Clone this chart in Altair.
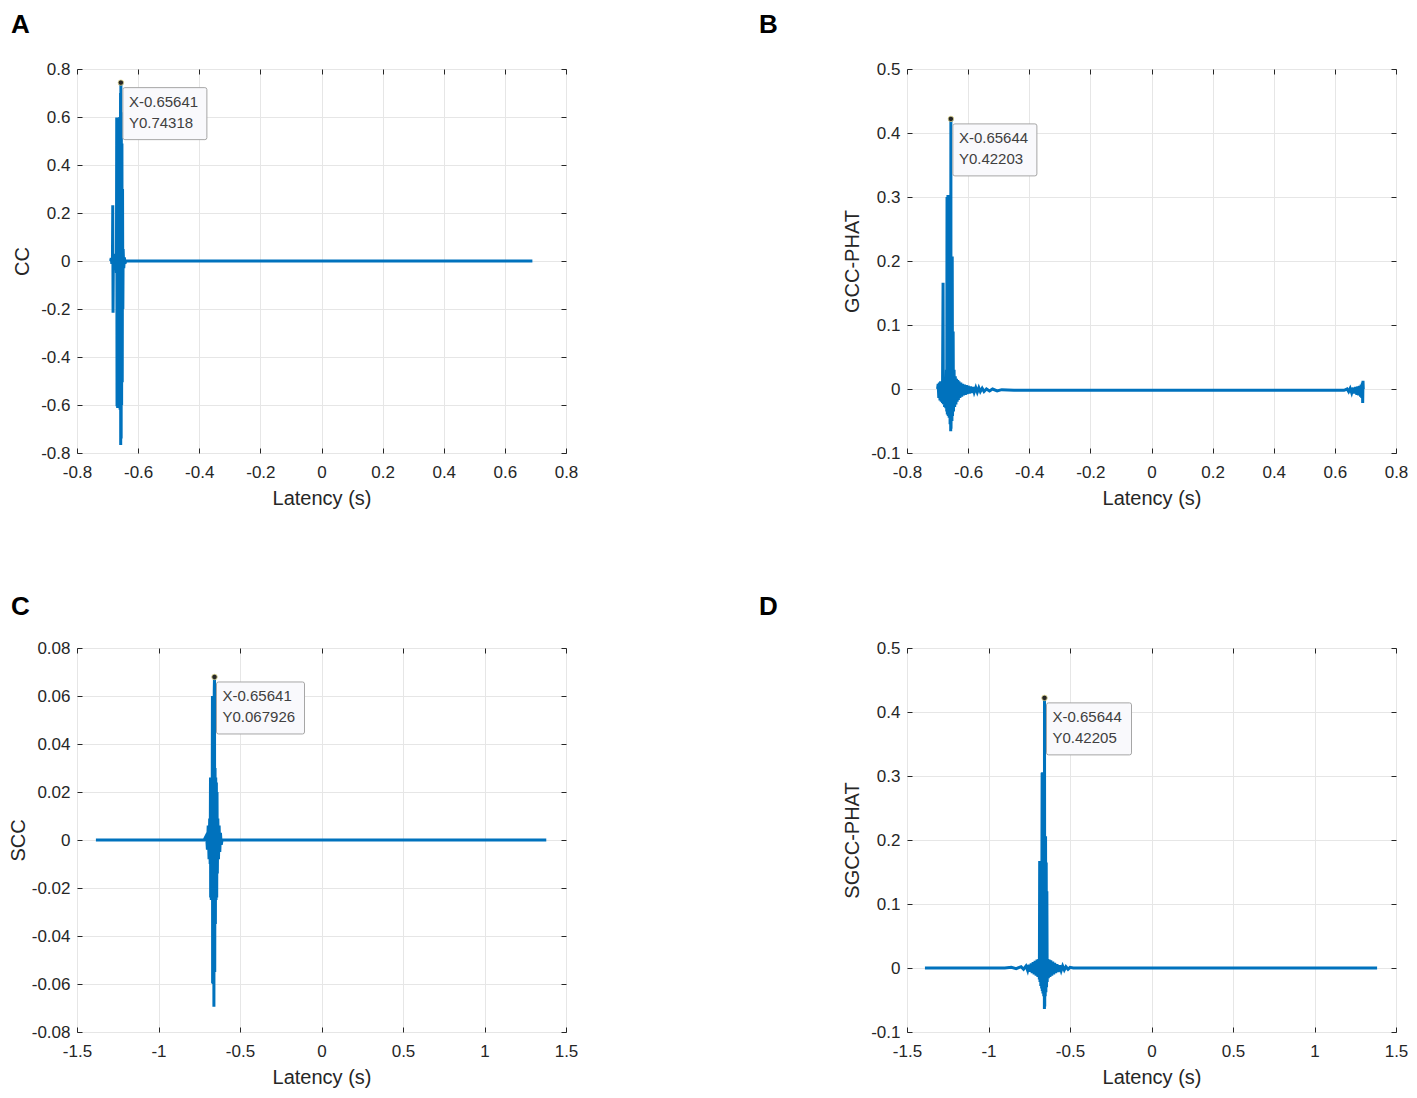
import altair as alt
import pandas as pd

FONT = "Liberation Sans"
BLUE = "#0072BD"
INK = "#262626"

# ---------------- data ----------------
# Panel A : CC
cc_x = [-0.690, -0.688, -0.686, -0.684, -0.683, -0.682, -0.681, -0.679, -0.677, -0.675,
        -0.673, -0.671, -0.670, -0.669, -0.668, -0.667, -0.666, -0.665, -0.663, -0.662,
        -0.660, -0.659, -0.6575, -0.657, -0.65641, -0.6555, -0.655, -0.654, -0.653, -0.652,
        -0.651, -0.650, -0.649, -0.647, -0.645, -0.643, -0.640, 0.690]
cc_y = [0.000, 0.012, -0.012, 0.014, 0.232, -0.216, 0.016, -0.018, 0.020, -0.022,
        0.030, -0.050, 0.598, -0.605, 0.590, -0.612, 0.570, -0.590, 0.550, -0.560,
        0.600, -0.620, 0.700, -0.767, 0.74318, -0.740, 0.620, -0.600, 0.490, -0.505,
        0.300, -0.200, 0.050, -0.030, 0.015, -0.010, 0.000, 0.000]

# Panel B : GCC-PHAT
gcc_x = [-0.700, -0.698, -0.696, -0.694, -0.692, -0.690, -0.688, -0.686, -0.684, -0.682,
         -0.681, -0.679, -0.677, -0.675, -0.673, -0.671, -0.670, -0.669, -0.668, -0.666,
         -0.665, -0.663, -0.662, -0.660, -0.659, -0.658, -0.657, -0.65644, -0.656, -0.654,
         -0.653, -0.652, -0.651, -0.649, -0.648, -0.646, -0.644, -0.642, -0.640, -0.638,
         -0.636, -0.634, -0.632, -0.630, -0.627, -0.624, -0.621, -0.618, -0.615, -0.612,
         -0.609, -0.606, -0.603, -0.600, -0.596, -0.592, -0.588, -0.584, -0.580, -0.575,
         -0.570, -0.565, -0.560, -0.554, -0.548, -0.540, -0.530, -0.520, -0.505, -0.490,
         -0.450, 0.630, 0.640, 0.645, 0.650, 0.655, 0.660, 0.664, 0.668, 0.672,
         0.675, 0.678, 0.681, 0.684, 0.686, 0.688, 0.690, 0.691, 0.692, 0.693]
gcc_y = [0.000, 0.008, -0.014, 0.010, -0.018, 0.012, -0.020, 0.012, -0.022, 0.166,
         -0.024, 0.014, -0.028, 0.016, -0.030, 0.030, -0.035, 0.300, -0.040, 0.303,
         -0.042, 0.060, -0.045, 0.110, -0.055, 0.150, -0.066, 0.42203, -0.062, 0.080,
         -0.050, 0.207, -0.042, 0.090, -0.035, 0.030, -0.028, 0.020, -0.024, 0.016,
         -0.020, 0.014, -0.017, 0.012, -0.014, 0.010, -0.012, 0.008, -0.010, 0.007,
         -0.009, 0.006, -0.008, 0.005, -0.007, 0.004, -0.006, 0.003, -0.005, 0.002,
         -0.005, 0.002, -0.004, 0.001, -0.004, 0.000, -0.003, 0.000, -0.003, -0.001,
         -0.002, -0.002, 0.000, -0.004, 0.001, -0.006, 0.002, -0.007, 0.003, -0.009,
         0.004, -0.010, 0.005, -0.012, 0.007, -0.014, 0.010, -0.022, 0.013, 0.000]

# Panel C : SCC
scc_x = [-1.384, -0.720, -0.705, -0.700, -0.695, -0.690, -0.686, -0.683, -0.681, -0.680,
         -0.678, -0.676, -0.674, -0.672, -0.669, -0.668, -0.666, -0.664, -0.662, -0.660,
         -0.658, -0.65641, -0.655, -0.653, -0.651, -0.649, -0.647, -0.645, -0.643, -0.641,
         -0.639, -0.636, -0.632, -0.628, -0.624, -0.620, -0.615, -0.610, 1.379]
scc_y = [0.000, 0.000, 0.002, -0.004, 0.006, -0.008, 0.009, -0.010, 0.026, -0.024,
         0.025, -0.025, 0.024, -0.023, 0.060, -0.0597, 0.045, -0.060, 0.050, -0.0695,
         0.062, 0.067926, -0.055, 0.030, -0.035, 0.026, -0.025, 0.024, -0.024, 0.020,
         -0.014, 0.009, -0.008, 0.006, -0.005, 0.003, -0.002, 0.000, 0.000]

# Panel D : SGCC-PHAT
sgcc_x = [-1.390, -0.900, -0.860, -0.830, -0.800, -0.785, -0.770, -0.760, -0.752, -0.745,
          -0.738, -0.732, -0.726, -0.720, -0.714, -0.708, -0.702, -0.697, -0.692, -0.688,
          -0.686, -0.684, -0.681, -0.679, -0.676, -0.674, -0.671, -0.670, -0.668, -0.666,
          -0.663, -0.661, -0.659, -0.657, -0.65644, -0.655, -0.654, -0.652, -0.650, -0.648,
          -0.646, -0.644, -0.642, -0.640, -0.637, -0.633, -0.628, -0.623, -0.618, -0.612,
          -0.606, -0.600, -0.594, -0.588, -0.580, -0.572, -0.563, -0.554, -0.545, -0.535,
          -0.525, -0.512, -0.500, -0.480, 1.384]
sgcc_y = [0.000, 0.000, 0.001, -0.001, 0.002, -0.002, 0.003, -0.004, 0.005, -0.006,
          0.007, -0.008, 0.009, -0.010, 0.011, -0.012, 0.013, -0.014, 0.014, -0.018,
          0.167, -0.022, 0.167, -0.028, 0.165, -0.032, 0.305, -0.036, 0.306, -0.040,
          0.165, -0.044, 0.200, -0.064, 0.42205, -0.060, 0.206, -0.044, 0.206, -0.038,
          0.165, -0.030, 0.120, -0.022, 0.014, -0.016, 0.013, -0.014, 0.012, -0.012,
          0.010, -0.010, 0.008, -0.008, 0.006, -0.006, 0.004, -0.004, 0.003, -0.003,
          0.002, -0.002, 0.001, 0.000, 0.000]

# data tips
tip_x = [-0.65641, -0.65644, -0.65641, -0.65644]
tip_y = [0.74318, 0.42203, 0.067926, 0.42205]
tip_text = ["X-0.65641\nY0.74318", "X-0.65644\nY0.42203",
            "X-0.65641\nY0.067926", "X-0.65644\nY0.42205"]

# tick labels
ticks_08 = [-0.8, -0.6, -0.4, -0.2, 0, 0.2, 0.4, 0.6, 0.8]
ticks_15 = [-1.5, -1, -0.5, 0, 0.5, 1, 1.5]
ticks_05 = [-0.1, 0, 0.1, 0.2, 0.3, 0.4, 0.5]
ticks_008 = [-0.08, -0.06, -0.04, -0.02, 0, 0.02, 0.04, 0.06, 0.08]

letters = ["A", "B", "C", "D"]
y_titles = ["CC", "GCC-PHAT", "SCC", "SGCC-PHAT"]

W, H = 489, 384
LAB = "replace(datum.label, '\u2212', '-')"


def panel(i, xs, ys, xticks, yticks, letter_dx, box_w, ytp, toff):
    df = pd.DataFrame({"x": xs, "y": ys, "i": list(range(len(xs)))})
    tip = pd.DataFrame({"x": [tip_x[i]], "y": [tip_y[i]], "label": [tip_text[i]]})
    xs_ = alt.Scale(domain=[xticks[0], xticks[-1]], nice=False, zero=False)
    ys_ = alt.Scale(domain=[yticks[0], yticks[-1]], nice=False, zero=False)

    xaxis = alt.Axis(values=xticks, format="~g", labelExpr=LAB, title="Latency (s)",
                     grid=True, domain=False, tickSize=5, offset=-5, labelPadding=11,
                     titlePadding=8, labelFlush=False, labelOverlap=False)
    yaxis = alt.Axis(values=yticks, format="~g", labelExpr=LAB, title=y_titles[i],
                     grid=True, domain=False, tickSize=5, offset=-5, labelPadding=7,
                     titlePadding=ytp, labelFlush=False, labelOverlap=False)

    line = alt.Chart(df).mark_line(color=BLUE, strokeWidth=3, strokeJoin="miter").encode(
        x=alt.X("x:Q", scale=xs_, axis=xaxis),
        y=alt.Y("y:Q", scale=ys_, axis=yaxis),
        order="i:Q",
    )
    box_path = (f"M4,5 H{box_w} Q{box_w + 2},5 {box_w + 2},7 V55 Q{box_w + 2},57 {box_w},57 "
                f"H4 Q2,57 2,55 V7 Q2,5 4,5 Z")
    box = alt.Chart(tip).mark_point(shape=box_path, size=4, filled=True, fill="#f9f9fc",
                                    stroke="#a6a6a6", strokeWidth=1, opacity=1).encode(
        x=alt.X("x:Q", scale=xs_, axis=None),
        y=alt.Y("y:Q", scale=ys_, axis=None),
    )
    text = alt.Chart(tip).mark_text(align="left", baseline="top", dx=8, dy=12,
                                    lineBreak="\n", lineHeight=21, fontSize=15,
                                    font=FONT, color="#404040").encode(
        x=alt.X("x:Q", scale=xs_, axis=None),
        y=alt.Y("y:Q", scale=ys_, axis=None),
        text="label:N",
    )
    dot = alt.Chart(tip).mark_point(filled=True, size=30, fill="#262626", stroke="#e0d890",
                                    strokeWidth=0.8, opacity=1).encode(
        x=alt.X("x:Q", scale=xs_, axis=None),
        y=alt.Y("y:Q", scale=ys_, axis=None),
    )
    frame = alt.Chart(tip).mark_point(opacity=0).encode(
        x=alt.X("x:Q", scale=xs_, axis=alt.Axis(orient="top", values=xticks, labels=False,
                                                title=None, grid=False, domain=False,
                                                tickSize=5, offset=-5, minExtent=0,
                                                labelPadding=0)),
        y=alt.Y("y:Q", scale=ys_, axis=alt.Axis(orient="right", values=yticks, labels=False,
                                                title=None, grid=False, domain=False,
                                                tickSize=5, offset=-5, minExtent=0,
                                                labelPadding=0)),
    )
    return alt.layer(line, box, text, dot, frame).resolve_axis(
        x="independent", y="independent"
    ).properties(
        width=W, height=H,
        title=alt.TitleParams(letters[i], anchor="start", frame="group", dx=letter_dx,
                              fontSize=26, fontWeight="bold", font=FONT, color="black",
                              offset=toff),
    )


pA = panel(0, cc_x, cc_y, ticks_08, ticks_08, -66, 84, 8, 22)
pB = panel(1, gcc_x, gcc_y, ticks_08, ticks_05, -148, 84, 8, 22)
pC = panel(2, scc_x, scc_y, ticks_15, ticks_008, -66, 88, 3, 19)
pD = panel(3, sgcc_x, sgcc_y, ticks_15, ticks_05, -148, 85, 8, 19)

chart = alt.concat(pA, pB, pC, pD, columns=2, spacing={"row": 84, "column": 179}).properties(
    padding={"left": -1, "top": 3, "right": 0, "bottom": 0},
    background="white",
).configure_view(
    stroke="#5a5a5a", strokeWidth=1
).configure_axis(
    labelFont=FONT, labelFontSize=17, labelColor=INK,
    titleFont=FONT, titleFontSize=20, titleFontWeight="normal", titleColor=INK,
    tickColor=INK, tickWidth=1, gridColor="#e6e6e6", gridWidth=1,
)

chart.save("out.html", embed_options={"renderer": "svg", "actions": False})
